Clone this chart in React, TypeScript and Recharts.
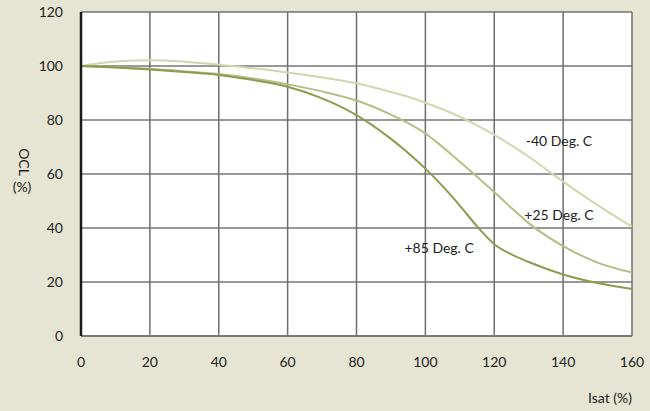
import { LineChart, Line, XAxis, YAxis, CartesianGrid, ReferenceDot } from 'recharts';

const isat = [0, 10, 20, 30, 40, 50, 60, 70, 80, 90, 95, 100, 105, 110, 115, 120, 125, 130, 140, 150, 160];
const minus40 = [100, 101.7, 102.1, 101.6, 100.5, 99.2, 97.6, 95.8, 93.6, 90.4, 88.6, 86.4, 84.0, 81.2, 78.0, 74.5, 70.6, 66.4, 57.2, 48.5, 40.5];
const plus25 = [100, 99.5, 99.0, 98.1, 97.0, 95.4, 93.2, 90.6, 87.2, 82.0, 78.8, 75.0, 70.0, 64.5, 59.0, 53.3, 47.4, 41.8, 33.3, 27.2, 23.5];
const plus85 = [100, 99.4, 98.7, 97.8, 96.7, 94.8, 92.3, 88.0, 81.8, 73.0, 67.8, 62.0, 55.5, 48.3, 40.6, 34.0, 30.2, 27.4, 22.8, 19.6, 17.4];

const xTicks = [0, 20, 40, 60, 80, 100, 120, 140, 160];
const yTicks = [0, 20, 40, 60, 80, 100, 120];

const seriesLabels = [
  { text: '-40 Deg. C', x: 138.8, y: 72.2 },
  { text: '+25 Deg. C', x: 138.8, y: 44.8 },
  { text: '+85 Deg. C', x: 104, y: 32.6 },
];

const data = isat.map((x, i) => ({ x, m40: minus40[i], p25: plus25[i], p85: plus85[i] }));

const tickStyle = { fill: '#222', fontSize: 14, fontFamily: 'Lato' };

export default function App() {
  return (
    <div style={{ position: 'absolute', left: 0, top: 0, width: 650, height: 411, background: '#e6e5d3', fontFamily: 'Lato' }}>
      <LineChart width={650} height={411} data={data} margin={{ top: 12, right: 18, left: 0, bottom: 0 }}>
        <CartesianGrid horizontal={true} vertical={false} stroke="#333" strokeWidth={1} fill="#fff" fillOpacity={1} />
        <CartesianGrid horizontal={false} vertical={true} stroke="#6e6e6e" strokeWidth={1.5} />
        <XAxis
          dataKey="x"
          type="number"
          domain={[0, 160]}
          ticks={xTicks}
          tickLine={false}
          tickSize={0}
          tickMargin={21}
          height={75}
          axisLine={{ stroke: '#7a7a7a', strokeWidth: 2 }}
          tick={tickStyle}
          label={{
            content: (p: any) => (
              <text x={p.viewBox.x + p.viewBox.width} y={403} textAnchor="end" fill="#222" fontSize={14} fontFamily="Lato">
                Isat (%)
              </text>
            ),
          }}
        />
        <YAxis
          type="number"
          domain={[0, 120]}
          ticks={yTicks}
          tickLine={false}
          tickSize={0}
          tickMargin={18}
          width={81}
          axisLine={{ stroke: '#1a1a1a', strokeWidth: 2.5 }}
          tick={tickStyle}
          label={{
            content: (p: any) => {
              const cy = p.viewBox.y + p.viewBox.height / 2;
              return (
                <g fill="#222" fontSize={14} fontFamily="Lato">
                  <text x={24} y={cy - 12} textAnchor="middle" dominantBaseline="central" transform={`rotate(90 24 ${cy - 12})`}>
                    OCL
                  </text>
                  <text x={22} y={cy + 18} textAnchor="middle">
                    (%)
                  </text>
                </g>
              );
            },
          }}
        />
        <Line type="monotone" dataKey="m40" stroke="#d3d6ae" strokeWidth={2} dot={false} isAnimationActive={false} />
        <Line type="monotone" dataKey="p25" stroke="#b6be86" strokeWidth={2} dot={false} isAnimationActive={false} />
        <Line type="monotone" dataKey="p85" stroke="#8e9b4d" strokeWidth={2} dot={false} isAnimationActive={false} />
        {seriesLabels.map((l) => (
          <ReferenceDot
            key={l.text}
            x={l.x}
            y={l.y}
            r={0}
            stroke="none"
            label={{ value: l.text, position: 'center', fill: '#222', fontSize: 14, fontFamily: 'Lato' }}
          />
        ))}
      </LineChart>
    </div>
  );
}
